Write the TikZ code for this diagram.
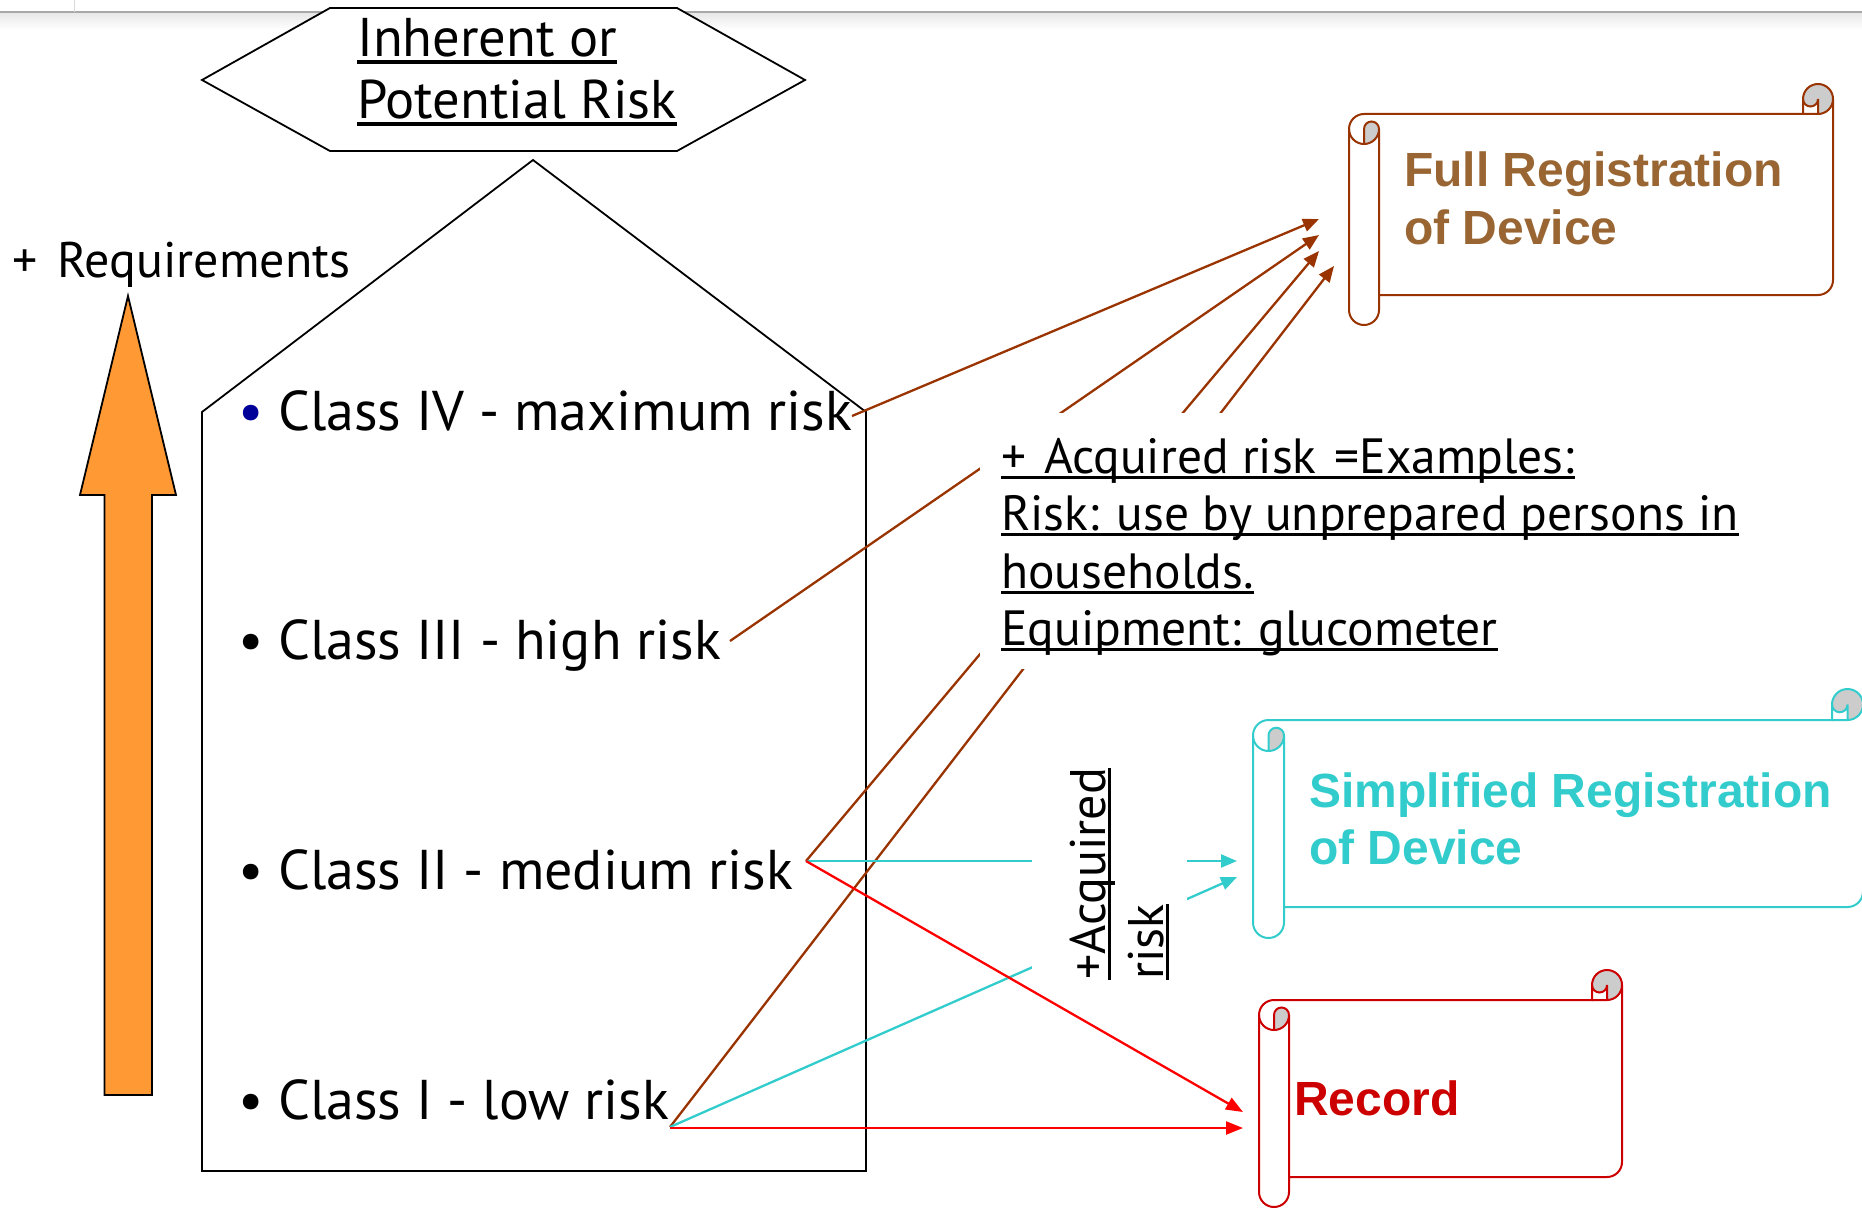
\documentclass[tikz,border=0pt]{standalone}
\usepackage{fontspec}
\setmainfont{PT Sans}
\newfontfamily\scrollfont{Liberation Sans}
\usetikzlibrary{arrows.meta}

\definecolor{brownline}{HTML}{993300}
\definecolor{browntext}{HTML}{996633}
\definecolor{cyanline}{HTML}{33CCCC}
\definecolor{recred}{HTML}{CC0000}
\definecolor{arrowred}{HTML}{FF0000}
\definecolor{orangearrow}{HTML}{FF9933}
\definecolor{bulletblue}{HTML}{000099}
\definecolor{curlgrey}{HTML}{CCCCCC}
\definecolor{barline}{HTML}{A8A8A8}

% underlined text with a rule sized to the current font
\newsavebox\ulbox
\newcommand{\ulx}[1]{\sbox\ulbox{#1}\rlap{\rule[-0.12em]{\wd\ulbox}{0.06em}}\usebox\ulbox}
% lines stacked with a fixed baseline distance; baseline of the first line
\newcommand{\linestack}[2]{\vtop{\baselineskip=#1\lineskiplimit=-\maxdimen\lineskip=0pt #2}}

% horizontal scroll: left, top, right, bottom, roll size, colour
\newcommand{\drawscroll}[6]{%
  \pgfmathsetmacro{\scrL}{#1}\pgfmathsetmacro{\scrT}{#2}%
  \pgfmathsetmacro{\scrR}{#3}\pgfmathsetmacro{\scrB}{#4}%
  \pgfmathsetmacro{\scrC}{#5}\pgfmathsetmacro{\scrH}{#5/2}\pgfmathsetmacro{\scrQ}{#5/4}%
  \fill[white] (\scrR,\scrT+\scrH) arc[start angle=0,end angle=90,radius=\scrH]
    -- (\scrR-\scrH,\scrT+\scrH) arc[start angle=0,end angle=180,radius=\scrQ]
    -- (\scrR-\scrC,\scrT+\scrC) -- (\scrL+\scrH,\scrT+\scrC)
    arc[start angle=270,end angle=180,radius=\scrH]
    -- (\scrL,\scrB-\scrH) arc[start angle=180,end angle=0,radius=\scrH]
    -- (\scrL+\scrC,\scrB-\scrC) -- (\scrR-\scrH,\scrB-\scrC)
    arc[start angle=90,end angle=0,radius=\scrH] -- cycle;
  \fill[curlgrey] (\scrL+\scrH,\scrT+2*\scrC) arc[start angle=90,end angle=0,radius=\scrH]
    arc[start angle=0,end angle=-180,radius=\scrQ] -- cycle;
  \fill[curlgrey] (\scrR-\scrH,\scrT+\scrC) arc[start angle=90,end angle=-180,radius=\scrH]
    arc[start angle=180,end angle=0,radius=\scrQ] -- cycle;
  \draw[#6, scrollline] (\scrL,\scrT+1.5*\scrC) arc[start angle=180,end angle=270,radius=\scrH]
    -- (\scrR-\scrC,\scrT+\scrC) -- (\scrR-\scrC,\scrT+\scrH)
    arc[start angle=180,end angle=360,radius=\scrH]
    -- (\scrR,\scrB-1.5*\scrC) arc[start angle=0,end angle=90,radius=\scrH]
    -- (\scrL+\scrC,\scrB-\scrC) -- (\scrL+\scrC,\scrB-\scrH)
    arc[start angle=0,end angle=180,radius=\scrH] -- cycle;
  \draw[#6, scrollline]
    (\scrR-\scrC,\scrT+\scrC) -- (\scrR-\scrH,\scrT+\scrC) arc[start angle=90,end angle=0,radius=\scrH]
    (\scrR-\scrH,\scrT+\scrC) -- (\scrR-\scrH,\scrT+\scrH) arc[start angle=0,end angle=180,radius=\scrQ]
    (\scrL+\scrH,\scrT+2*\scrC) -- (\scrL+\scrH,\scrT+1.5*\scrC)
      arc[start angle=180,end angle=360,radius=\scrQ] arc[start angle=0,end angle=180,radius=\scrH]
    (\scrL+\scrC,\scrT+1.5*\scrC) -- (\scrL+\scrC,\scrB-\scrC);
}

\tikzset{
  scrollline/.style={line width=2pt},
  outline/.style={draw=black, line width=1.8pt},
  classtext/.style={anchor=base west, inner sep=0pt, font=\fontsize{56}{60}\selectfont},
  headtext/.style={anchor=base west, inner sep=0pt, font=\fontsize{54.5}{60}\selectfont},
  reqtext/.style={anchor=base west, inner sep=0pt, font=\fontsize{50}{54}\selectfont},
  acqtext/.style={anchor=base west, fill=white, inner xsep=21pt, inner ysep=0pt,
    font=\fontsize{49.5}{56}\selectfont},
  sidetext/.style={anchor=base west, rotate=90, fill=white, inner xsep=6pt, inner ysep=0pt,
    font=\fontsize{50}{56}\selectfont},
  scrolltext/.style={anchor=base west, inner sep=0pt, font=\scrollfont\bfseries\fontsize{48}{56}\selectfont},
  conn/.style={line width=2.3pt},
  brownarrow/.style={conn, draw=brownline, -{Triangle[length=16pt,width=13pt]}},
  cyanarrow/.style={conn, draw=cyanline, -{Triangle[length=16pt,width=13pt]}},
  redarrow/.style={conn, draw=arrowred, -{Triangle[length=17pt,width=13pt]}},
}

\begin{document}
\begin{tikzpicture}[x=1pt,y=-1pt]
\useasboundingbox (0,0) rectangle (1862,1209);

% window edge at the top
\shade[top color=black!9, bottom color=white] (0,13) rectangle (1862,30);
\draw[barline, line width=1.5pt] (0,12) -- (1862,12);
\draw[black!15, line width=1pt] (74,0) -- (74,12);

% hexagon heading
\draw[outline, fill=white] (202,80) -- (330,8) -- (677,8) -- (805,80) -- (677,151) -- (330,151) -- cycle;
\node[headtext] (head) at (357,57)
  {\linestack{62pt}{\hbox{\ulx{Inherent or}}\hbox{\ulx{Potential Risk}}}};

% house holding the classes
\draw[outline] (202,1171) -- (202,412) -- (533,160) -- (866,412) -- (866,1171) -- cycle;

% rising requirements arrow
\draw[line width=1.8pt, fill=orangearrow] (104.5,1095) -- (104.5,495) -- (80,495) -- (128,296)
  -- (176,495) -- (152,495) -- (152,1095) -- cycle;
\node[reqtext] (req) at (12,277) {+\hspace{20pt}Requirements};

% classes
\node[classtext] (c4) at (238,430) {\makebox[40pt][l]{\color{bulletblue}\textbullet}Class IV - maximum risk};
\node[classtext] (c3) at (238,659) {\makebox[40pt][l]{\textbullet}Class III - high risk};
\node[classtext] (c2) at (238,889) {\makebox[40pt][l]{\textbullet}Class II - medium risk};
\node[classtext] (c1) at (238,1119) {\makebox[40pt][l]{\textbullet}Class I - low risk};

% scrolls
\drawscroll{1349}{84}{1833}{325}{30}{brownline}
\drawscroll{1253}{689}{1863}{938}{31}{cyanline}
\drawscroll{1259}{970}{1622}{1207}{30}{recred}

\node[scrolltext, text=browntext] (full) at (1404,187)
  {\linestack{58pt}{\hbox{Full Registration}\hbox{of Device}}};
\node[scrolltext, text=cyanline] (simple) at (1309,807)
  {\linestack{57pt}{\hbox{Simplified Registration}\hbox{of Device}}};
\node[scrolltext, text=recred] (record) at (1294,1115) {Record};

% connector ends
\coordinate (o4) at (852,416);
\coordinate (o3) at (730,641);
\coordinate (o2) at (806,861);
\coordinate (o1) at (670,1127);
\coordinate (f4) at (1319,219);
\coordinate (f3) at (1319,235);
\coordinate (f2) at (1319,251);
\coordinate (f1) at (1334,266);
\coordinate (s2) at (1237,861);
\coordinate (s1) at (1237,877);
\coordinate (r2) at (1243,1112);
\coordinate (r1) at (1243,1128);

% connectors
\draw[brownarrow] (o4) -- (f4);
\draw[brownarrow] (o3) -- (f3);
\draw[brownarrow] (o2) -- (f2);
\draw[brownarrow] (o1) -- (f1);
\draw[cyanarrow] (o2) -- (s2);
\draw[cyanarrow] (o1) -- (s1);
\draw[redarrow] (o2) -- (r2);
\draw[redarrow] (o1 |- r1) -- (r1);

% acquired risk notes, over the connectors
\node[acqtext, text height=60pt, text depth=196pt] (acq) at (980,473)
  {\linestack{57.5pt}{\hbox{\ulx{+\hspace{18pt}Acquired risk\hspace{18pt}=Examples:}}
    \hbox{\ulx{Risk: use by unprepared persons in}}\hbox{\ulx{households.}}
    \hbox{\ulx{Equipment: glucometer}}}};
\node[sidetext, text height=73pt, text depth=82pt] (side) at (1105,986)
  {\linestack{58pt}{\hbox{\ulx{+Acquired}}\hbox{\ulx{risk}}}};
\end{tikzpicture}
\end{document}
